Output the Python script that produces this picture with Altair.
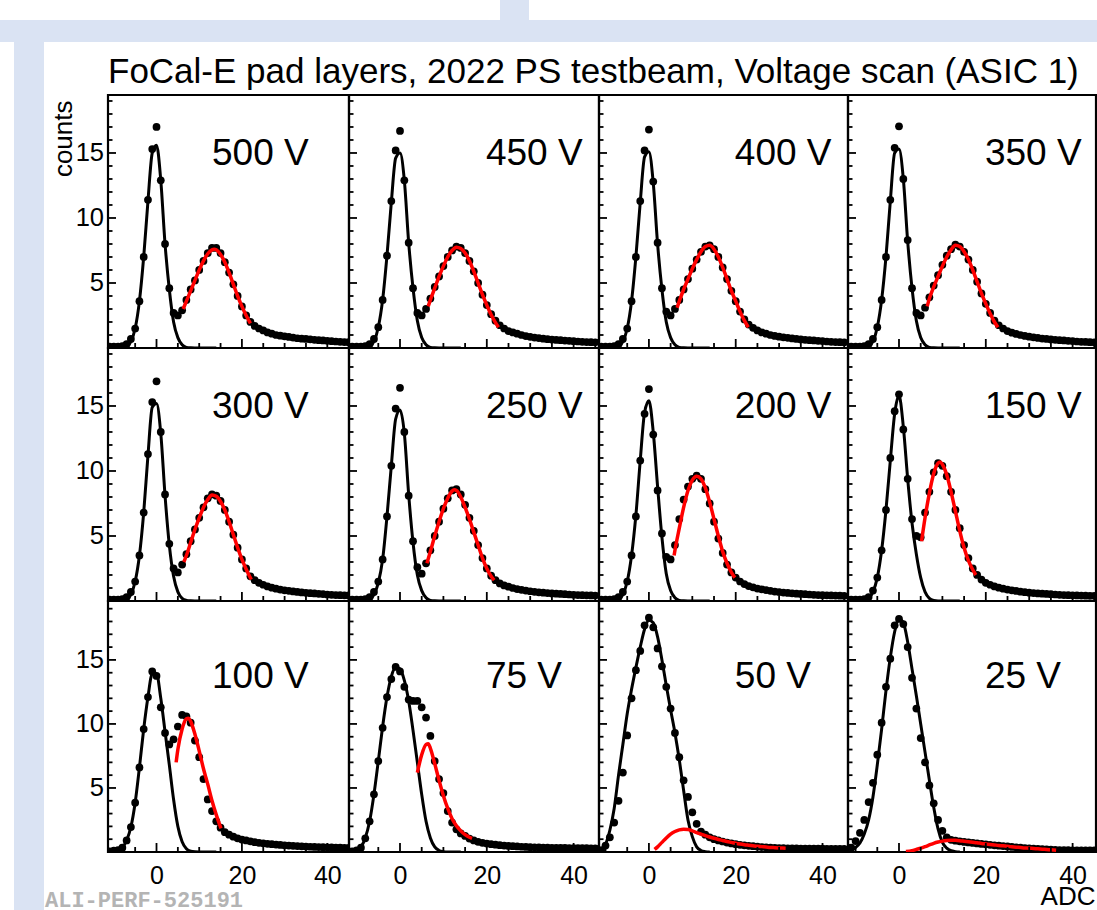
import altair as alt
import pandas as pd

TITLE = "FoCal-E pad layers, 2022 PS testbeam, Voltage scan (ASIC 1)"
LABELS = ["500 V", "450 V", "400 V", "350 V", "300 V", "250 V",
          "200 V", "150 V", "100 V", "75 V", "50 V", "25 V"]
ADC_BINS = list(range(-11, 46))
PED_X = list(range(-11, 15))
X_MAJOR = [0, 20, 40]
X_MINOR = [-10, -5, 5, 10, 15, 25, 30, 35, 45]
Y_MAJOR = [5, 10, 15]
Y_MINOR = [1, 2, 3, 4, 6, 7, 8, 9, 11, 12, 13, 14, 16, 17, 18, 19]

# ---- histogram points (counts per ADC bin, -11 ... 45) ----
d500 = [0.1,0.1,0.1,0.15,0.3,0.7,1.5,3.6,7.0,11.4,15.3,17.0,12.9,8.0,4.6,2.7,2.5,2.9,3.7,4.5,5.2,6.0,6.7,7.3,7.7,7.7,7.3,6.6,5.8,4.9,4.0,3.2,2.5,2.0,1.7,1.5,1.35,1.2,1.1,1.0,0.95,0.9,0.85,0.8,0.75,0.72,0.7,0.67,0.63,0.6,0.58,0.55,0.52,0.5,0.48,0.46,0.45]
d450 = [0.1,0.1,0.1,0.15,0.3,0.7,1.6,3.7,7.1,11.3,15.2,16.7,12.9,8.1,4.6,2.7,2.5,3.0,3.8,4.7,5.5,6.3,7.0,7.5,7.8,7.7,7.3,6.7,5.9,5.0,4.1,3.3,2.6,2.1,1.75,1.5,1.3,1.2,1.1,1.0,0.92,0.86,0.8,0.76,0.72,0.68,0.65,0.62,0.6,0.57,0.55,0.52,0.5,0.48,0.46,0.45,0.44]
d400 = [0.1,0.1,0.1,0.15,0.3,0.7,1.5,3.6,7.0,11.3,15.2,16.8,12.8,8.1,4.6,2.8,2.5,3.0,3.7,4.5,5.3,6.1,6.8,7.4,7.8,7.9,7.6,7.0,6.2,5.3,4.4,3.6,2.8,2.2,1.8,1.55,1.35,1.2,1.1,1.0,0.93,0.87,0.82,0.78,0.74,0.7,0.66,0.63,0.6,0.58,0.55,0.53,0.5,0.48,0.46,0.45,0.44]
d350 = [0.1,0.1,0.1,0.15,0.3,0.7,1.6,3.7,7.0,11.4,15.4,17.05,13.0,8.3,4.6,2.7,2.5,3.1,3.9,4.8,5.6,6.4,7.1,7.6,7.95,7.8,7.4,6.8,6.0,5.1,4.2,3.4,2.7,2.1,1.75,1.5,1.3,1.18,1.08,1.0,0.93,0.87,0.82,0.77,0.73,0.7,0.66,0.63,0.6,0.58,0.55,0.53,0.5,0.48,0.47,0.45,0.44]
d300 = [0.1,0.1,0.1,0.15,0.3,0.7,1.5,3.5,6.8,11.3,15.3,16.9,13.0,8.2,4.4,2.5,2.2,2.8,3.6,4.6,5.5,6.4,7.2,7.9,8.2,8.1,7.7,7.0,6.1,5.1,4.1,3.2,2.5,1.9,1.6,1.4,1.25,1.12,1.02,0.95,0.88,0.82,0.78,0.74,0.7,0.66,0.63,0.6,0.58,0.55,0.53,0.5,0.48,0.46,0.45,0.44,0.43]
d250 = [0.1,0.1,0.1,0.15,0.3,0.7,1.5,3.2,6.5,10.4,14.8,16.4,13.0,8.1,4.6,2.6,2.1,2.9,3.9,5.0,6.1,7.1,7.9,8.5,8.6,8.2,7.4,6.4,5.4,4.3,3.3,2.5,1.95,1.6,1.35,1.2,1.1,1.0,0.92,0.86,0.8,0.75,0.71,0.67,0.64,0.61,0.58,0.56,0.54,0.52,0.5,0.48,0.46,0.45,0.44,0.43,0.42]
d200 = [0.1,0.1,0.1,0.15,0.3,0.7,1.5,3.5,6.5,10.8,14.4,16.3,12.8,8.5,5.2,3.4,3.2,4.3,6.3,7.8,8.8,9.4,9.65,9.4,8.6,7.5,6.1,4.8,3.7,2.8,2.2,1.8,1.5,1.3,1.15,1.05,0.96,0.9,0.84,0.78,0.73,0.69,0.65,0.62,0.59,0.56,0.54,0.52,0.5,0.48,0.46,0.45,0.44,0.43,0.42,0.41,0.4]
d150 = [0.1,0.1,0.1,0.15,0.3,0.8,1.8,3.9,7.0,11.0,14.6,15.9,13.2,9.4,6.3,5.0,4.9,6.8,8.4,9.9,10.6,10.4,9.6,8.4,7.0,5.6,4.3,3.3,2.5,2.0,1.65,1.4,1.25,1.12,1.02,0.95,0.88,0.82,0.77,0.72,0.68,0.64,0.61,0.58,0.56,0.54,0.52,0.5,0.48,0.46,0.45,0.44,0.43,0.42,0.41,0.4,0.4]
d100 = [0.05,0.1,0.15,0.34,0.9,1.95,3.85,6.6,9.6,12.1,14.1,13.75,11.3,9.3,8.4,8.8,9.8,10.7,10.6,10.1,8.7,7.4,5.7,4.1,3.2,2.4,1.9,1.55,1.35,1.2,1.07,0.97,0.9,0.83,0.77,0.72,0.68,0.64,0.61,0.58,0.55,0.52,0.5,0.48,0.46,0.44,0.42,0.41,0.4,0.39,0.38,0.37,0.36,0.35,0.34,0.33,0.33]
d75 = [0.05,0.12,0.34,1.07,2.4,4.5,7.1,9.7,12.1,13.5,14.45,14.1,12.9,11.9,11.8,11.8,11.3,10.5,9.06,7.1,5.7,4.6,3.2,2.3,1.77,1.45,1.25,1.05,0.9,0.8,0.72,0.66,0.61,0.57,0.53,0.5,0.47,0.45,0.43,0.41,0.4,0.38,0.37,0.36,0.35,0.34,0.33,0.33,0.32,0.32,0.31,0.31,0.3,0.3,0.3,0.29,0.29]
d50 = [0.15,0.5,1.15,2.3,4.0,6.2,9.1,12.0,14.2,15.7,17.7,18.3,17.55,15.9,14.5,12.9,11.2,9.3,7.4,5.6,4.3,3.1,2.2,1.6,1.35,1.15,1.0,0.9,0.82,0.74,0.67,0.61,0.56,0.52,0.48,0.45,0.42,0.39,0.37,0.35,0.33,0.31,0.3,0.29,0.28,0.28,0.27,0.27,0.27,0.26,0.26,0.26,0.25,0.25,0.25,0.25,0.24]
d25 = [0.35,0.85,1.5,2.5,3.9,5.4,7.6,10.1,12.9,15.1,17.7,18.2,17.8,16.0,13.6,11.2,8.9,7.0,5.2,3.8,2.5,1.65,1.15,0.95,0.88,0.83,0.79,0.75,0.71,0.67,0.63,0.6,0.56,0.52,0.49,0.46,0.43,0.4,0.37,0.34,0.31,0.29,0.26,0.24,0.22,0.2,0.18,0.16,0.15,0.14,0.14,0.13,0.13,0.13,0.12,0.12,0.12]

# ---- pedestal fit (black curve), sampled at ADC -11 ... 14 ----
g500 = [0,0,0,0,0.1,0.5,1.5,3.6,7.0,11.3,15.0,15.6,12.9,8.0,4.5,2.0,0.8,0.25,0.05,0.01,0,0,0,0,0,0]
g450 = [0,0,0,0,0.1,0.5,1.6,3.7,7.1,11.2,14.6,15.0,12.9,8.1,4.6,2.1,0.8,0.25,0.05,0.01,0,0,0,0,0,0]
g400 = [0,0,0,0,0.1,0.5,1.5,3.6,7.0,11.2,14.7,15.1,12.7,8.0,4.5,2.0,0.8,0.25,0.05,0.01,0,0,0,0,0,0]
g350 = [0,0,0,0,0.1,0.5,1.6,3.7,7.0,11.3,15.0,15.3,13.0,8.2,4.6,2.1,0.8,0.25,0.05,0.01,0,0,0,0,0,0]
g300 = [0,0,0,0,0.1,0.5,1.5,3.5,6.8,11.2,14.9,15.2,12.9,8.1,4.3,1.9,0.7,0.2,0.05,0.01,0,0,0,0,0,0]
g250 = [0,0,0,0,0.1,0.5,1.4,3.2,6.5,10.4,14.0,14.7,12.9,8.2,4.5,2.0,0.8,0.25,0.05,0.01,0,0,0,0,0,0]
g200 = [0,0,0,0,0.1,0.5,1.5,3.5,6.6,10.8,14.5,15.4,13.0,8.8,4.9,2.1,0.8,0.25,0.05,0.01,0,0,0,0,0,0]
g150 = [0,0,0,0.05,0.2,0.7,1.8,3.9,7.0,10.8,14.4,15.8,13.4,9.4,6.0,3.6,1.8,0.7,0.2,0.04,0,0,0,0,0,0]
g100 = [0.02,0.05,0.15,0.35,0.9,1.95,3.85,6.6,9.6,12.1,13.9,13.9,12.0,9.4,6.8,4.1,2.0,0.8,0.25,0.06,0.01,0,0,0,0,0]
g75 = [0.05,0.15,0.4,1.1,2.4,4.5,7.1,9.8,12.1,13.7,14.45,14.3,13.4,11.8,9.5,7.0,4.5,2.4,1.1,0.4,0.12,0.03,0,0,0,0]
g50 = [0.15,0.6,1.7,3.4,6.0,8.4,10.8,12.7,14.4,16.0,17.4,18.1,17.9,16.8,15.0,13.0,11.1,9.3,7.2,4.8,2.5,1.2,0.4,0.12,0.03,0]
g25 = [0.12,0.35,0.7,1.4,2.5,4.3,6.8,9.6,12.6,15.2,17.2,18.2,17.9,16.4,14.3,12.2,10.0,7.8,5.6,3.5,1.8,0.75,0.3,0.1,0.03,0]

# ---- signal fit (red curve) ----
r500_x = [6.25,7,8,9,10,11,12,13,13.5,14,15,16,17,18,19,20,21,22]
r500_y = [3.0,3.6,4.4,5.2,6.0,6.7,7.25,7.55,7.6,7.55,7.2,6.6,5.8,4.9,4.0,3.2,2.5,1.9]
r450_x = [6.5,7,8,9,10,11,12,13,14,15,16,17,18,19,20,21,22,22.7]
r450_y = [3.2,3.7,4.6,5.5,6.3,7.0,7.5,7.75,7.65,7.3,6.7,5.9,5.0,4.1,3.3,2.55,1.95,1.6]
r400_x = [6.5,7,8,9,10,11,12,13,14,15,16,17,18,19,20,21,22,22.9]
r400_y = [3.1,3.6,4.5,5.3,6.1,6.8,7.4,7.8,7.9,7.6,7.0,6.2,5.3,4.4,3.6,2.8,2.1,1.6]
r350_x = [6.5,7,8,9,10,11,12,13,14,15,16,17,18,19,20,21,22,22.8]
r350_y = [3.2,3.8,4.7,5.5,6.3,7.0,7.55,7.9,7.8,7.4,6.8,6.0,5.1,4.2,3.4,2.65,2.0,1.6]
r300_x = [6.4,7,8,9,10,11,12,13,14,15,16,17,18,19,20,21,22.2]
r300_y = [3.0,3.5,4.5,5.5,6.4,7.2,7.8,8.15,8.05,7.65,7.0,6.1,5.1,4.1,3.2,2.45,1.65]
r250_x = [6.2,7,8,9,10,11,12,12.5,13,14,15,16,17,18,19,20,21,21.7]
r250_y = [2.9,3.8,5.0,6.1,7.1,7.9,8.45,8.55,8.5,8.0,7.2,6.3,5.3,4.3,3.3,2.5,1.9,1.6]
r200_x = [5.8,6,7,8,9,10,11,12,13,14,15,16,17,18,19,19.8]
r200_y = [3.5,3.9,5.6,7.2,8.5,9.3,9.6,9.4,8.7,7.6,6.3,5.0,3.8,2.9,2.2,1.8]
r150_x = [5.2,6,7,8,9,9.5,10,11,12,13,14,15,16,17,17.7]
r150_y = [4.6,6.4,8.3,9.8,10.6,10.7,10.5,9.7,8.4,6.9,5.4,4.1,3.1,2.4,2.0]
r100_x = [4.6,5,6,7,7.5,8,9,10,11,12,13,14,15.1]
r100_y = [7.0,8.0,9.6,10.4,10.45,10.2,9.2,7.9,6.5,5.3,4.0,2.9,1.85]
r75_x = [4.0,5,6,6.5,7,8,9,10,11,12,13,14,15,16,16.6]
r75_y = [6.2,7.6,8.4,8.45,8.1,6.9,5.6,4.4,3.4,2.6,2.05,1.65,1.35,1.15,1.07]
r50_x = [1.3,2,3,4,5,6,7,8,9,10,11,12,13,14,15,16,17,18,19,20,21,22,23,24,25,26,27,28,29,30,31.5]
r50_y = [0.2,0.4,0.75,1.1,1.4,1.6,1.73,1.78,1.75,1.65,1.52,1.4,1.28,1.17,1.07,0.98,0.9,0.82,0.75,0.68,0.62,0.57,0.53,0.49,0.45,0.42,0.39,0.36,0.34,0.32,0.29]
r25_x = [1.6,3,4,5,6,7,8,9,10,11,12,13,14,15,16,17,18,19,20,21,22,23,24,25,26,27,28,29,30,31,32,33,34,35,36.2]
r25_y = [0.03,0.1,0.2,0.3,0.42,0.55,0.68,0.78,0.85,0.9,0.92,0.91,0.88,0.84,0.8,0.76,0.72,0.67,0.63,0.59,0.55,0.51,0.48,0.44,0.41,0.38,0.35,0.32,0.3,0.27,0.25,0.22,0.2,0.17,0.14]

PANELS = [
    (d500, g500, r500_x, r500_y), (d450, g450, r450_x, r450_y),
    (d400, g400, r400_x, r400_y), (d350, g350, r350_x, r350_y),
    (d300, g300, r300_x, r300_y), (d250, g250, r250_x, r250_y),
    (d200, g200, r200_x, r200_y), (d150, g150, r150_x, r150_y),
    (d100, g100, r100_x, r100_y), (d75, g75, r75_x, r75_y),
    (d50, g50, r50_x, r50_y), (d25, g25, r25_x, r25_y),
]

# ---- layout ----
COL_W = [241, 250, 249, 248]
ROW_H = [253, 253, 251]
X_DOM = [[-11.36, 45.08], [-11.75, 45.85], [-11.5, 45.87], [-11.75, 45.39]]
Y_DOM = [[0, 19.46], [0, 19.46], [0, 19.6]]
LABEL_X = [13.0, 19.8, 19.8, 19.8]
LABEL_Y = [14.1, 14.1, 12.8]
FONT = "Liberation Sans"
BLUE = "#dae3f3"


def xy(xs, ys):
    return pd.DataFrame([{"adc": a, "counts": b} for a, b in zip(xs, ys)])


def one_row():
    return pd.DataFrame({"k": [0]})


def make_panel(idx):
    r, c = divmod(idx, 4)
    dots, ped, rx, ry = PANELS[idx]
    W, H = COL_W[c], ROW_H[r]
    xs = alt.Scale(domain=X_DOM[c], nice=False, zero=False)
    ys = alt.Scale(domain=Y_DOM[r], nice=False, zero=False)

    if r == 2:
        xax = alt.Axis(values=X_MAJOR, grid=False, ticks=False, tickSize=0, domain=False,
                       labelFontSize=25, labelFont=FONT, labelColor="black", labelPadding=11,
                       labelFlush=False, labelOverlap=False,
                       title="ADC" if c == 3 else "", titleFont=FONT, titleFontSize=26,
                       titleFontWeight="normal", titleColor="black", titleAlign="right",
                       titleBaseline="alphabetic", titleX=W - 1, titleY=52, titleAngle=0)
    else:
        xax = None
    if c == 0:
        yax = alt.Axis(values=Y_MAJOR, grid=False, ticks=False, tickSize=0, domain=False,
                       labelFontSize=25.5, labelFont=FONT, labelColor="black", labelPadding=4.5,
                       labelOverlap=False,
                       title="counts" if r == 0 else "", titleFont=FONT, titleFontSize=26,
                       titleFontWeight="normal", titleColor="black", titleAngle=270,
                       titleAlign="right", titleBaseline="alphabetic", titleX=-37, titleY=5)
    else:
        yax = None

    def X():
        return alt.X("adc:Q", scale=xs, axis=xax)

    def Y():
        return alt.Y("counts:Q", scale=ys, axis=yax)

    layers = []
    if idx == 0:
        # page decoration around the figure
        for (x0, x1, y0, y1) in [(-108, 989, -75, -53), (392, 421, -95, -75), (-94, -64, -53, 815)]:
            layers.append(alt.Chart(one_row()).mark_rect(color=BLUE).encode(
                x=alt.value(x0), x2=alt.value(x1), y=alt.value(y0), y2=alt.value(y1)))
    if idx == 8:
        layers.append(alt.Chart(pd.DataFrame({"t": ["ALI-PERF-525191"]})).mark_text(
            align="left", baseline="bottom", font="Liberation Mono", fontWeight="bold",
            fontSize=22, color="#b4b4b4").encode(x=alt.value(-63), y=alt.value(311), text="t:N"))

    layers.append(alt.Chart(xy(ADC_BINS, dots)).mark_circle(
        size=60, color="black", opacity=1, clip=True).encode(x=X(), y=Y()))
    layers.append(alt.Chart(xy(PED_X, ped)).mark_line(
        color="black", strokeWidth=3, interpolate="monotone", clip=True).encode(x=X(), y=Y()))
    layers.append(alt.Chart(xy(rx, ry)).mark_line(
        color="#ff0000", strokeWidth=3.5, interpolate="monotone", clip=True).encode(x=X(), y=Y()))

    # inward ticks: bottom and left
    for vals, ln in [(X_MAJOR, 9), (X_MINOR, 5)]:
        layers.append(alt.Chart(pd.DataFrame({"adc": vals})).mark_rule(
            color="black", strokeWidth=1.8).encode(x=X(), y=alt.value(H), y2=alt.value(H - ln)))
    for vals, ln in [(Y_MAJOR, 8), (Y_MINOR, 4.5)]:
        layers.append(alt.Chart(pd.DataFrame({"counts": vals})).mark_rule(
            color="black", strokeWidth=1.8).encode(y=Y(), x=alt.value(0), x2=alt.value(ln)))

    layers.append(alt.Chart(pd.DataFrame({"adc": [LABEL_X[c]], "counts": [LABEL_Y[r]],
                                          "label": [LABELS[idx]]})).mark_text(
        align="left", baseline="alphabetic", font=FONT, fontSize=37, color="black").encode(
        x=X(), y=Y(), text="label:N"))

    return alt.layer(*layers).properties(width=W, height=H)


chart = alt.concat(*[make_panel(i) for i in range(12)], columns=4, spacing=0,
                   bounds="flush", align="each").properties(
    title=alt.TitleParams(text=TITLE, anchor="start", frame="group", font=FONT, fontSize=35,
                          fontWeight="normal", color="black", baseline="alphabetic",
                          offset=0, dy=119),
    padding={"left": -2, "top": -2, "right": -2, "bottom": -2},
).configure(
    background="white", font=FONT,
    view=alt.ViewConfig(stroke="#000000", strokeWidth=2.2, strokeOpacity=1),
)

chart.save("out.html", embed_options={"renderer": "svg", "actions": False})
